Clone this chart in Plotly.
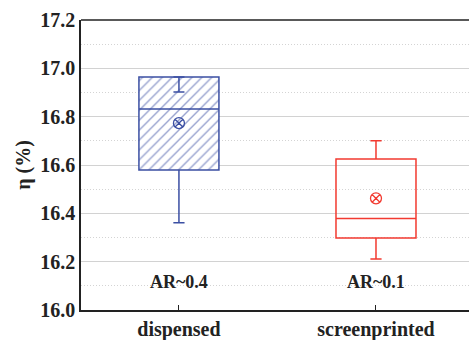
import plotly.graph_objects as go

categories = ["dispensed", "screenprinted"]
positions = [0, 1]
q1 = [16.579, 16.298]
median = [16.832, 16.379]
q3 = [16.964, 16.625]
lower_whisker = [16.361, 16.211]
upper_whisker = [16.902, 16.700]
means = [16.773, 16.462]
ar_labels = ["AR~0.4", "AR~0.1"]
colors = ["#3b4fa3", "#f23a30"]

BOX_W = 0.406
font_family = "Times New Roman, Liberation Serif, DejaVu Serif, serif"

fig = go.Figure()

# hatched fill for the dispensed box
fig.add_trace(go.Bar(
    x=[positions[0]], y=[q3[0] - q1[0]], base=[q1[0]], width=BOX_W,
    marker=dict(color="white", line=dict(width=0),
                pattern=dict(shape="/", fgcolor="#3348a0", bgcolor="white", size=7, solidity=0.2)),
    showlegend=False, hoverinfo="skip"))

for i in range(2):
    inside = upper_whisker[i] < q3[i]
    fig.add_trace(go.Box(
        x=[positions[i]], q1=[q1[i]], median=[median[i]], q3=[q3[i]],
        lowerfence=[lower_whisker[i]], upperfence=[q3[i] if inside else upper_whisker[i]],
        width=BOX_W, whiskerwidth=0.14,
        line=dict(color=colors[i], width=1.5),
        fillcolor="rgba(0,0,0,0)", boxpoints=False, showlegend=False, hoverinfo="skip"))
    if inside:
        # whisker whose end lies inside the box: drawn downward from the box top
        fig.add_trace(go.Scatter(
            x=[positions[i]], y=[q3[i]], mode="markers",
            marker=dict(size=1, color="rgba(0,0,0,0)"),
            error_y=dict(type="data", symmetric=False, array=[0],
                         arrayminus=[q3[i] - upper_whisker[i]],
                         color=colors[i], thickness=1.5, width=5.5),
            showlegend=False, hoverinfo="skip"))
    fig.add_trace(go.Scatter(
        x=[positions[i]], y=[means[i]], mode="markers",
        marker=dict(symbol="circle-x-open", size=11, color=colors[i], line=dict(width=1.3)),
        showlegend=False))

for i in range(2):
    fig.add_annotation(x=positions[i], y=16.116, text="<b>%s</b>" % ar_labels[i],
                       showarrow=False, font=dict(family=font_family, size=18, color="#222"))

fig.update_layout(
    width=469, height=340,
    margin=dict(l=81, r=0, t=20, b=30),
    plot_bgcolor="white", paper_bgcolor="white",
    font=dict(family=font_family, color="#222"),
    xaxis=dict(range=[-0.497, 1.472], tickvals=positions,
               ticktext=["<b>%s</b>" % c for c in categories],
               tickfont=dict(size=20, family=font_family),
               showline=True, linecolor="#222", linewidth=1.5,
               ticks="inside", ticklen=5, tickcolor="#222",
               showgrid=False, zeroline=False, automargin=False),
    yaxis=dict(range=[16.0, 17.2], dtick=0.2, tickformat=".1f",
               tickfont=dict(size=20, family=font_family),
               tickprefix="<b>", ticksuffix="</b>",
               title=dict(text="<b>η (%)</b>", font=dict(size=20, family=font_family), standoff=4),
               showline=True, linecolor="#222", linewidth=1.5, mirror=False,
               showgrid=True, gridcolor="#d2d2d2", gridwidth=1.3,
               minor=dict(dtick=0.1, showgrid=True, gridcolor="#d4d4d4", griddash="1px,2px", gridwidth=1),
               zeroline=False, ticks="", ticklen=0, automargin=False),
    bargap=0,
)

# top frame line
fig.add_shape(type="line", xref="paper", yref="paper", x0=0, x1=1, y0=1, y1=1,
              line=dict(color="#222", width=1.5))

fig.write_html("out.html", config={"displayModeBar": False},
               post_script="document.body.style.margin='0';")
